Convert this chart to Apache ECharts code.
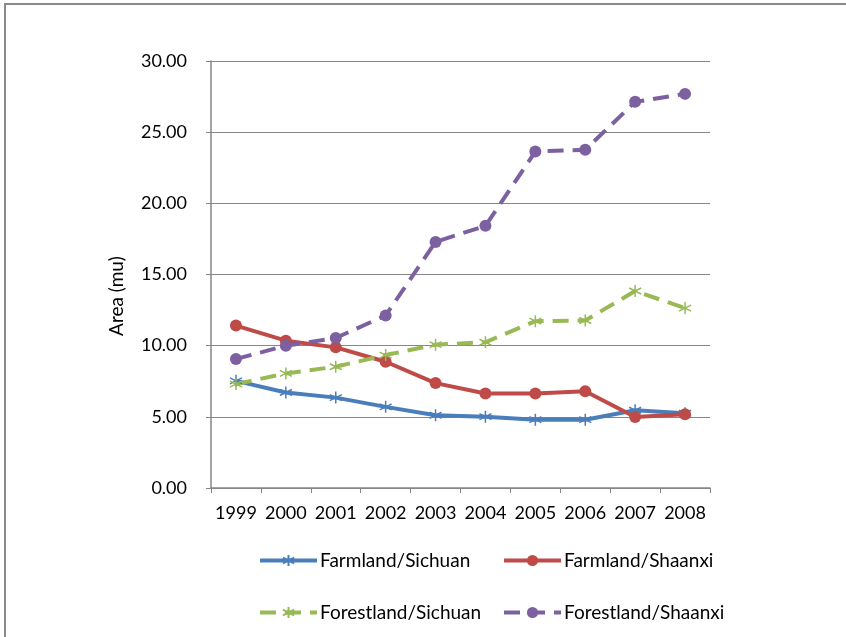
<!DOCTYPE html>
<html lang="en">
<head>
    <meta charset="UTF-8">
    <title>Area</title>
    <style>
        html, body { margin: 0; padding: 0; background: #fff; }
        #main { width: 846px; height: 637px; }
    </style>
</head>
<body>
    <div id="main"></div>
    <script src="https://cdn.jsdelivr.net/npm/echarts@6/dist/echarts.min.js"></script>
    <script>
        var years = ['1999', '2000', '2001', '2002', '2003', '2004', '2005', '2006', '2007', '2008'];
        var farmSichuan = [7.53, 6.71, 6.35, 5.70, 5.11, 5.01, 4.80, 4.80, 5.46, 5.25];
        var farmShaanxi = [11.41, 10.35, 9.88, 8.87, 7.37, 6.64, 6.64, 6.80, 4.99, 5.18];
        var forestSichuan = [7.30, 8.05, 8.52, 9.34, 10.07, 10.24, 11.72, 11.77, 13.84, 12.64];
        var forestShaanxi = [9.06, 10.00, 10.54, 12.12, 17.29, 18.42, 23.64, 23.76, 27.13, 27.69];

        var font = 'Lato, "Open Sans", sans-serif';
        var star = 'path://M0,-1L0,1M-0.87,-0.5L0.87,0.5M-0.87,0.5L0.87,-0.5';

        function makeSeries(name, data, color, dashed, marker) {
            var isStar = marker === 'star';
            return {
                name: name,
                type: 'line',
                data: data,
                symbol: isStar ? star : 'circle',
                symbolSize: 12,
                showAllSymbol: true,
                itemStyle: {
                    color: color,
                    borderColor: color,
                    borderWidth: isStar ? 1.5 : 0
                },
                lineStyle: {
                    color: color,
                    width: 4,
                    type: dashed ? [16, 9] : 'solid'
                },
                emphasis: { disabled: true },
                animation: false
            };
        }

        var myChart = echarts.init(document.getElementById('main'));
        var legendText = { fontFamily: font, fontSize: 19, color: '#000', padding: [0, 0, 0, -2] };
        var option = {
            backgroundColor: '#fff',
            graphic: [
                {
                    type: 'rect',
                    shape: { x: 5, y: 4, width: 1200, height: 1200 },
                    style: { fill: 'none', stroke: '#8a8a8a', lineWidth: 2 },
                    silent: true
                },
                {
                    type: 'text',
                    x: 117,
                    y: 296,
                    rotation: Math.PI / 2,
                    style: {
                        text: 'Area (mu)',
                        fontFamily: font,
                        fontSize: 19,
                        fill: '#000',
                        textAlign: 'center',
                        textVerticalAlign: 'middle'
                    },
                    silent: true
                }
            ],
            legend: [
                {
                    orient: 'vertical',
                    left: 253,
                    top: 546,
                    itemWidth: 57,
                    itemHeight: 14,
                    itemGap: 33,
                    lineStyle: { width: 4 },
                    textStyle: legendText,
                    selectedMode: false,
                    data: ['Farmland/Sichuan', 'Forestland/Sichuan']
                },
                {
                    orient: 'vertical',
                    left: 497,
                    top: 546,
                    itemWidth: 57,
                    itemHeight: 14,
                    itemGap: 33,
                    lineStyle: { width: 4 },
                    textStyle: legendText,
                    selectedMode: false,
                    data: ['Farmland/Shaanxi', 'Forestland/Shaanxi']
                }
            ],
            grid: { left: 211, right: 136, top: 61, bottom: 149 },
            xAxis: {
                type: 'category',
                data: years,
                boundaryGap: true,
                axisLine: { lineStyle: { color: '#868686', width: 1.5 } },
                axisTick: { show: true, interval: 0, alignWithLabel: false, length: 5, lineStyle: { color: '#868686' } },
                axisLabel: { interval: 0, hideOverlap: false, fontFamily: font, fontSize: 18, color: '#000', margin: 16 }
            },
            yAxis: {
                type: 'value',
                min: 0,
                max: 30,
                interval: 5,
                axisLine: { show: true, lineStyle: { color: '#868686', width: 1.5 } },
                axisTick: { show: true, length: 5, lineStyle: { color: '#868686' } },
                axisLabel: {
                    fontFamily: font,
                    fontSize: 18,
                    color: '#000',
                    margin: 24,
                    formatter: function (v) { return v.toFixed(2); }
                },
                splitLine: { lineStyle: { color: '#868686', width: 1 } }
            },
            series: [
                makeSeries('Farmland/Sichuan', farmSichuan, '#4A7EBB', false, 'star'),
                makeSeries('Farmland/Shaanxi', farmShaanxi, '#BE4B48', false, 'circle'),
                makeSeries('Forestland/Sichuan', forestSichuan, '#98B954', true, 'star'),
                makeSeries('Forestland/Shaanxi', forestShaanxi, '#7D60A0', true, 'circle')
            ]
        };
        myChart.setOption(option);
    </script>
</body>
</html>
